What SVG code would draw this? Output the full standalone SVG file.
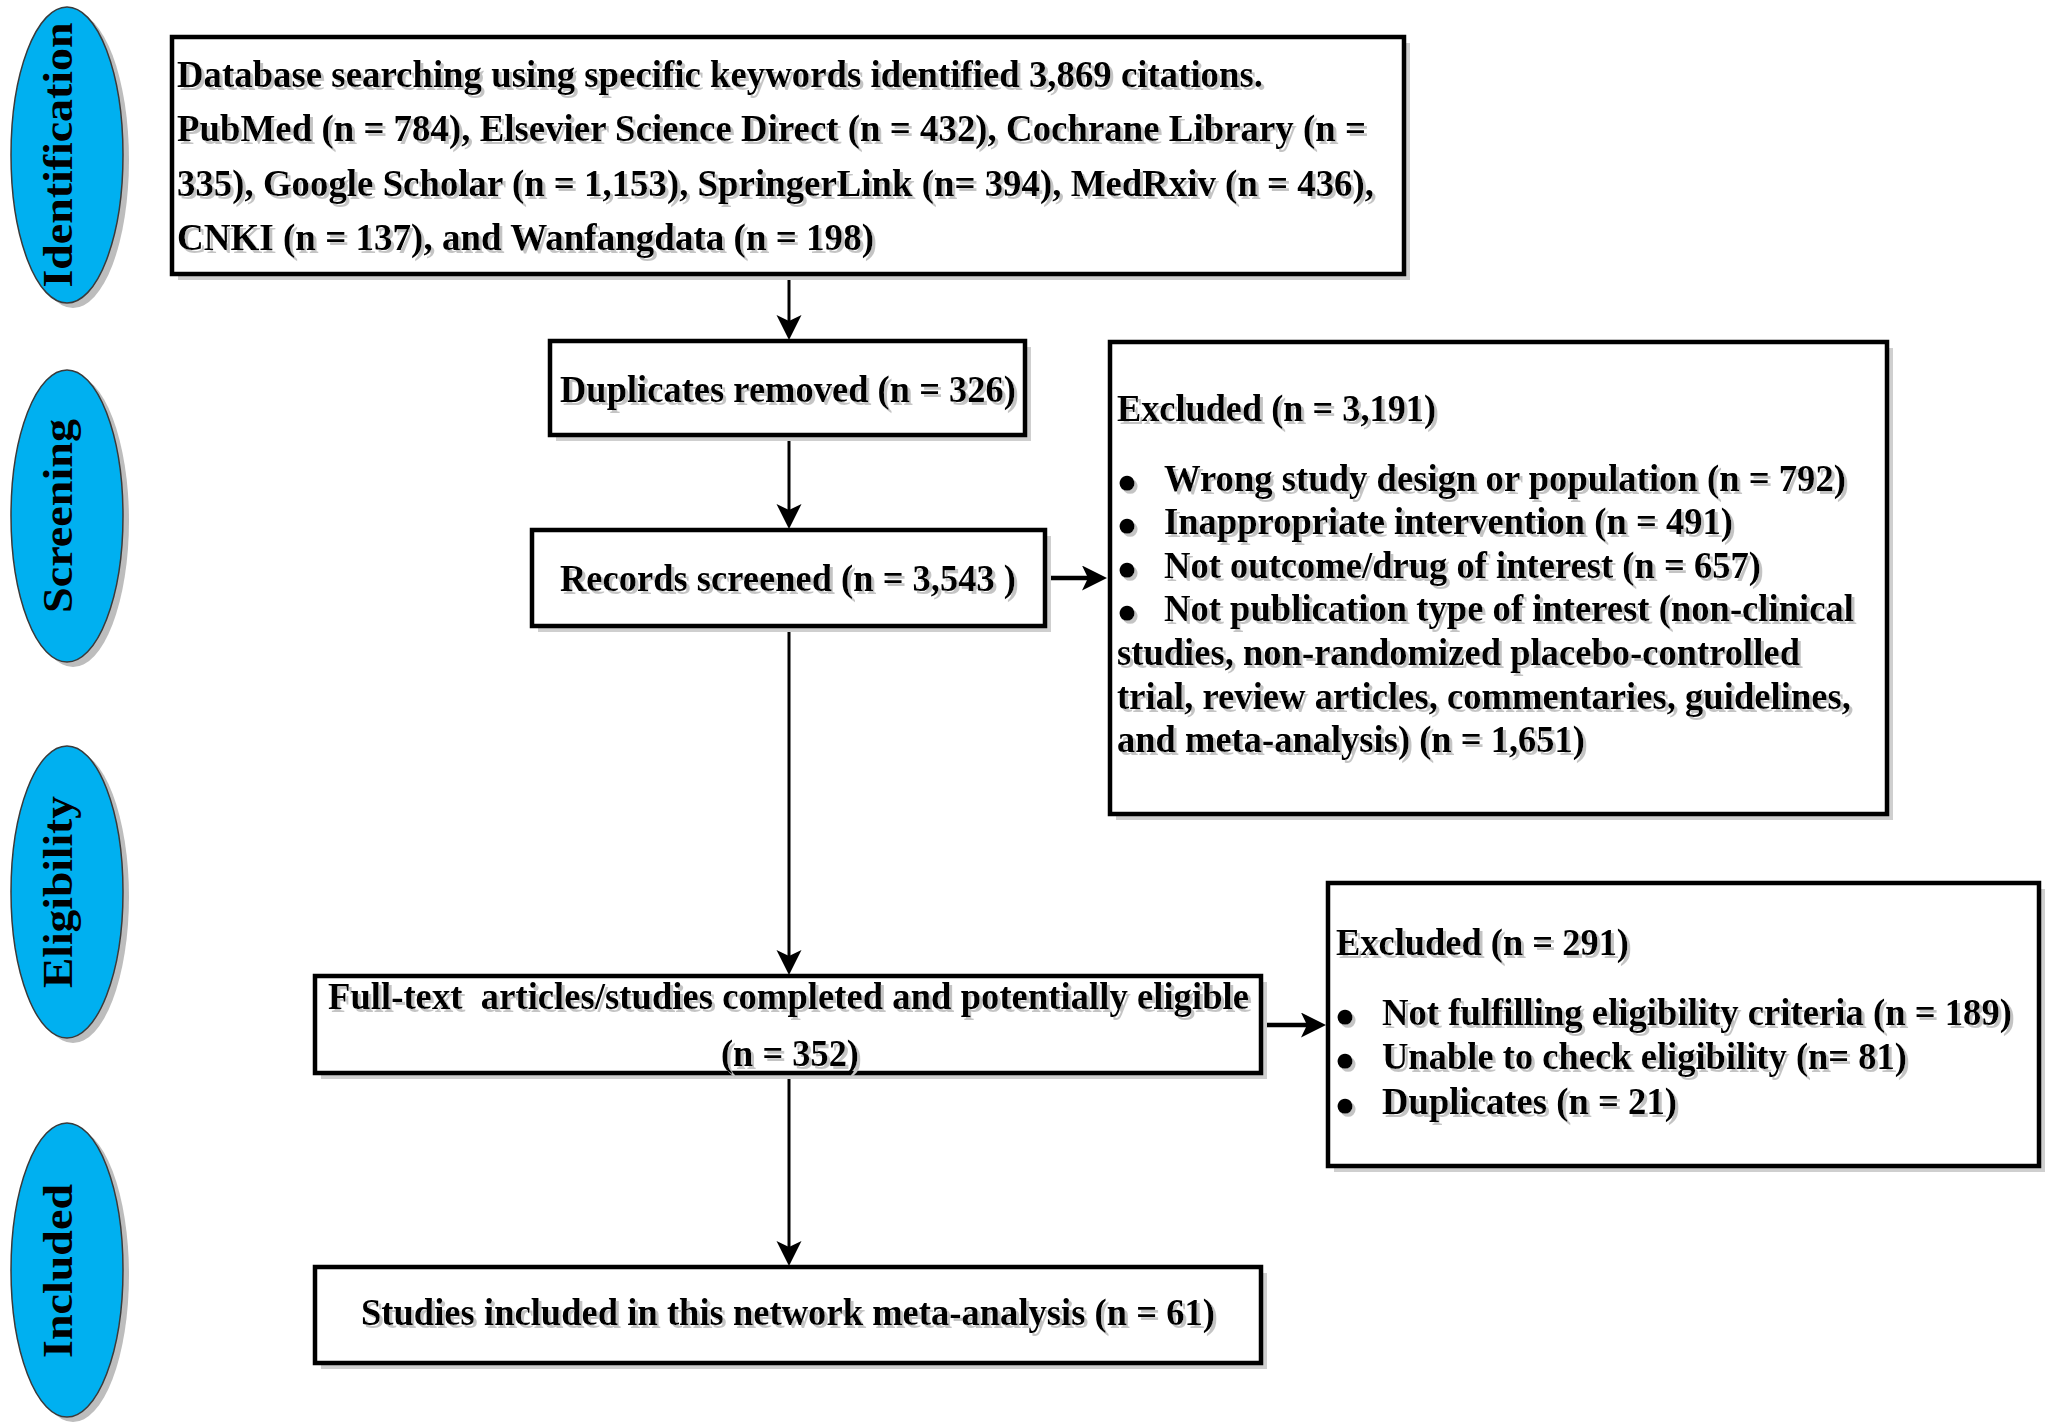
<svg xmlns="http://www.w3.org/2000/svg" width="2050" height="1427" viewBox="0 0 2050 1427">
<style>
.t{font-family:"Liberation Serif","Times New Roman",serif;font-weight:bold;font-size:38px;fill:#000;}
.b{font-family:"Liberation Serif","Times New Roman",serif;font-size:35px;fill:#000;}
.lab{font-family:"Liberation Serif","Times New Roman",serif;font-weight:bold;font-size:43px;fill:#000;}
.box{fill:#fff;stroke:#000;stroke-width:4.5;}
.sh{fill:#cfcfcf;}
.ell{fill:#00b0f0;stroke:#3a3a3a;stroke-width:1.5;}
.esh{fill:#bdbdbd;}
.c{stroke:#000;stroke-width:3;fill:none;}
.ch{stroke:#000;stroke-width:4.5;fill:none;}
</style>
<defs>
<marker id="ah" markerUnits="userSpaceOnUse" markerWidth="28" markerHeight="28" refX="16" refY="12.5" orient="auto">
<path d="M0,0 L25,12.5 L0,25 L6,12.5 Z" fill="#000"/>
</marker>
<filter id="tsh" x="-5%" y="-30%" width="110%" height="160%">
<feOffset in="SourceAlpha" dx="3" dy="3" result="o"/>
<feFlood flood-color="#c4c4c4"/>
<feComposite in2="o" operator="in" result="s"/>
<feMerge><feMergeNode in="s"/><feMergeNode in="SourceGraphic"/></feMerge>
</filter>
</defs>
<rect width="2050" height="1427" fill="#fff"/>

<g id="phase-identification">
<ellipse class="esh" cx="73" cy="160" rx="56" ry="148"/>
<ellipse class="ell" cx="67" cy="155" rx="56" ry="148"/>
<text class="lab" transform="translate(72,155) rotate(-90)" text-anchor="middle" textLength="265" lengthAdjust="spacingAndGlyphs">Identification</text>
</g>
<g id="phase-screening">
<ellipse class="esh" cx="73" cy="521" rx="56" ry="146"/>
<ellipse class="ell" cx="67" cy="516" rx="56" ry="146"/>
<text class="lab" transform="translate(72,516) rotate(-90)" text-anchor="middle" textLength="194" lengthAdjust="spacingAndGlyphs">Screening</text>
</g>
<g id="phase-eligibility">
<ellipse class="esh" cx="73" cy="897" rx="56" ry="146"/>
<ellipse class="ell" cx="67" cy="892" rx="56" ry="146"/>
<text class="lab" transform="translate(72,892) rotate(-90)" text-anchor="middle" textLength="192" lengthAdjust="spacingAndGlyphs">Eligibility</text>
</g>
<g id="phase-included">
<ellipse class="esh" cx="73" cy="1275" rx="56" ry="147"/>
<ellipse class="ell" cx="67" cy="1270" rx="56" ry="147"/>
<text class="lab" transform="translate(72,1271) rotate(-90)" text-anchor="middle" textLength="174" lengthAdjust="spacingAndGlyphs">Included</text>
</g>

<g id="connectors">
<line class="c" x1="789" y1="274" x2="789" y2="331" marker-end="url(#ah)"/>
<line class="c" x1="789" y1="435" x2="789" y2="520" marker-end="url(#ah)"/>
<line class="c" x1="789" y1="626" x2="789" y2="966" marker-end="url(#ah)"/>
<line class="c" x1="789" y1="1073" x2="789" y2="1257" marker-end="url(#ah)"/>
<line class="ch" x1="1045" y1="578" x2="1098" y2="578" marker-end="url(#ah)"/>
<line class="ch" x1="1261" y1="1025" x2="1317" y2="1025" marker-end="url(#ah)"/>
</g>

<g id="node-search">
<rect class="sh" x="178" y="43" width="1232" height="237"/>
<rect class="box" x="172" y="37" width="1232" height="237"/>
<g filter="url(#tsh)">
<text class="t" x="177" y="87" textLength="1086" lengthAdjust="spacingAndGlyphs">Database searching using specific keywords identified 3,869 citations.</text>
<text class="t" x="177" y="141" textLength="1189" lengthAdjust="spacingAndGlyphs">PubMed (n = 784), Elsevier Science Direct (n = 432), Cochrane Library (n =</text>
<text class="t" x="177" y="196" textLength="1197" lengthAdjust="spacingAndGlyphs">335), Google Scholar (n = 1,153), SpringerLink (n= 394), MedRxiv (n = 436),</text>
<text class="t" x="177" y="250" textLength="697" lengthAdjust="spacingAndGlyphs">CNKI (n = 137), and Wanfangdata (n = 198)</text>
</g>
</g>

<g id="node-duplicates">
<rect class="sh" x="556" y="347" width="475" height="94"/>
<rect class="box" x="550" y="341" width="475" height="94"/>
<text class="t" filter="url(#tsh)" x="560" y="402" textLength="456" lengthAdjust="spacingAndGlyphs">Duplicates removed (n = 326)</text>
</g>

<g id="node-screened">
<rect class="sh" x="538" y="536" width="513" height="96"/>
<rect class="box" x="532" y="530" width="513" height="96"/>
<text class="t" filter="url(#tsh)" x="560" y="591" textLength="456" lengthAdjust="spacingAndGlyphs">Records screened (n = 3,543 )</text>
</g>

<g id="node-excluded1">
<rect class="sh" x="1116" y="348" width="777" height="472"/>
<rect class="box" x="1110" y="342" width="777" height="472"/>
<g filter="url(#tsh)">
<text class="t" x="1117" y="421" textLength="319" lengthAdjust="spacingAndGlyphs">Excluded (n = 3,191)</text>
<text class="b" x="1127" y="493" text-anchor="middle">●</text>
<text class="t" x="1164" y="491" textLength="682" lengthAdjust="spacingAndGlyphs">Wrong study design or population (n = 792)</text>
<text class="b" x="1127" y="536" text-anchor="middle">●</text>
<text class="t" x="1164" y="534" textLength="569" lengthAdjust="spacingAndGlyphs">Inappropriate intervention (n = 491)</text>
<text class="b" x="1127" y="580" text-anchor="middle">●</text>
<text class="t" x="1164" y="578" textLength="597" lengthAdjust="spacingAndGlyphs">Not outcome/drug of interest (n = 657)</text>
<text class="b" x="1127" y="623" text-anchor="middle">●</text>
<text class="t" x="1164" y="621" textLength="690" lengthAdjust="spacingAndGlyphs">Not publication type of interest (non-clinical</text>
<text class="t" x="1117" y="665" textLength="683" lengthAdjust="spacingAndGlyphs">studies, non-randomized placebo-controlled</text>
<text class="t" x="1117" y="709" textLength="734" lengthAdjust="spacingAndGlyphs">trial, review articles, commentaries, guidelines,</text>
<text class="t" x="1117" y="752" textLength="468" lengthAdjust="spacingAndGlyphs">and meta-analysis) (n = 1,651)</text>
</g>
</g>

<g id="node-fulltext">
<rect class="sh" x="321" y="982" width="946" height="97"/>
<rect class="box" x="315" y="976" width="946" height="97"/>
<g filter="url(#tsh)">
<text class="t" x="328" y="1009" textLength="921" lengthAdjust="spacingAndGlyphs" style="white-space:pre">Full-text  articles/studies completed and potentially eligible</text>
<text class="t" x="721" y="1066" textLength="138" lengthAdjust="spacingAndGlyphs">(n = 352)</text>
</g>
</g>

<g id="node-excluded2">
<rect class="sh" x="1334" y="889" width="711" height="283"/>
<rect class="box" x="1328" y="883" width="711" height="283"/>
<g filter="url(#tsh)">
<text class="t" x="1336" y="955" textLength="293" lengthAdjust="spacingAndGlyphs">Excluded (n = 291)</text>
<text class="b" x="1345" y="1027" text-anchor="middle">●</text>
<text class="t" x="1382" y="1025" textLength="630" lengthAdjust="spacingAndGlyphs">Not fulfilling eligibility criteria (n = 189)</text>
<text class="b" x="1345" y="1071" text-anchor="middle">●</text>
<text class="t" x="1382" y="1069" textLength="525" lengthAdjust="spacingAndGlyphs">Unable to check eligibility (n= 81)</text>
<text class="b" x="1345" y="1116" text-anchor="middle">●</text>
<text class="t" x="1382" y="1114" textLength="295" lengthAdjust="spacingAndGlyphs">Duplicates (n = 21)</text>
</g>
</g>

<g id="node-included">
<rect class="sh" x="321" y="1273" width="946" height="96"/>
<rect class="box" x="315" y="1267" width="946" height="96"/>
<text class="t" filter="url(#tsh)" x="361" y="1325" textLength="854" lengthAdjust="spacingAndGlyphs">Studies included in this network meta-analysis (n = 61)</text>
</g>
</svg>
